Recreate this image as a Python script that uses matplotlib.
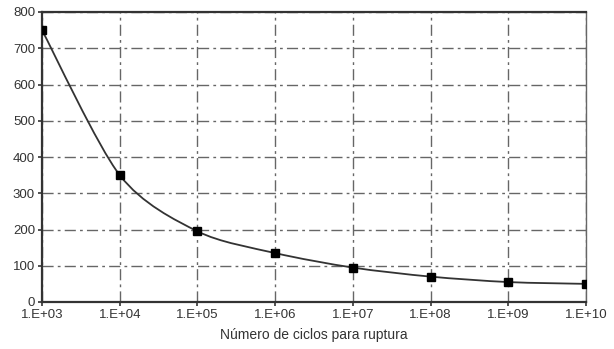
import numpy as np
import matplotlib
matplotlib.use("Agg")
import matplotlib.pyplot as plt
from matplotlib.path import Path
from matplotlib.patches import PathPatch

plt.rcParams["font.family"] = ["Liberation Sans", "DejaVu Sans"]

cycles = [1e3, 1e4, 1e5, 1e6, 1e7, 1e8, 1e9, 1e10]
stress = [750, 350, 195, 135, 95, 70, 55, 50]
y_ticks = [0, 100, 200, 300, 400, 500, 600, 700, 800]


def smooth_path(xs, ys, t=1 / 7):
    # Catmull-Rom style bezier through the points, built in log10(x) space
    lx = np.log10(xs)
    ys = np.asarray(ys, dtype=float)
    n = len(lx)
    verts = [(xs[0], ys[0])]
    codes = [Path.MOVETO]
    for i in range(n - 1):
        p0 = max(i - 1, 0)
        p3 = min(i + 2, n - 1)
        c1x = lx[i] + (lx[i + 1] - lx[p0]) * t
        c1y = ys[i] + (ys[i + 1] - ys[p0]) * t
        c2x = lx[i + 1] - (lx[p3] - lx[i]) * t
        c2y = ys[i + 1] - (ys[p3] - ys[i]) * t
        verts += [(10 ** c1x, c1y), (10 ** c2x, c2y), (xs[i + 1], ys[i + 1])]
        codes += [Path.CURVE4] * 3
    return Path(verts, codes)


fig = plt.figure(figsize=(6.14, 3.49), dpi=100)
ax = fig.add_axes([42 / 614, 1 - 302 / 349, 544 / 614, 290 / 349])

ax.set_xscale("log")
ax.set_xlim(cycles[0], cycles[-1])
ax.set_ylim(0, 800)

ax.add_patch(PathPatch(smooth_path(cycles, stress), fill=False,
                       edgecolor="#333333", lw=1.3, zorder=3))
ax.plot(cycles, stress, ls="none", marker="s", ms=5.5, color="black", zorder=4)

ax.set_xticks(cycles)
ax.set_xticklabels([f"1.E+{int(np.log10(c)):02d}" for c in cycles])
ax.xaxis.set_minor_locator(matplotlib.ticker.NullLocator())
ax.set_yticks(y_ticks)

ax.grid(True, color="#666666", ls=(0, (8, 3, 2, 3)), lw=1.0)
ax.tick_params(labelsize=9.5, length=3, width=1.2, color="#333333",
               labelcolor="#333333", pad=2)

for side in ["left", "bottom", "top"]:
    ax.spines[side].set_color("#333333")
    ax.spines[side].set_linewidth(1.6)
ax.spines["right"].set_color("#666666")
ax.spines["right"].set_linewidth(1.0)

ax.set_xlabel("Número de ciclos para ruptura", fontsize=10, color="#333333", labelpad=5)

fig.savefig("out.png", dpi=100)
